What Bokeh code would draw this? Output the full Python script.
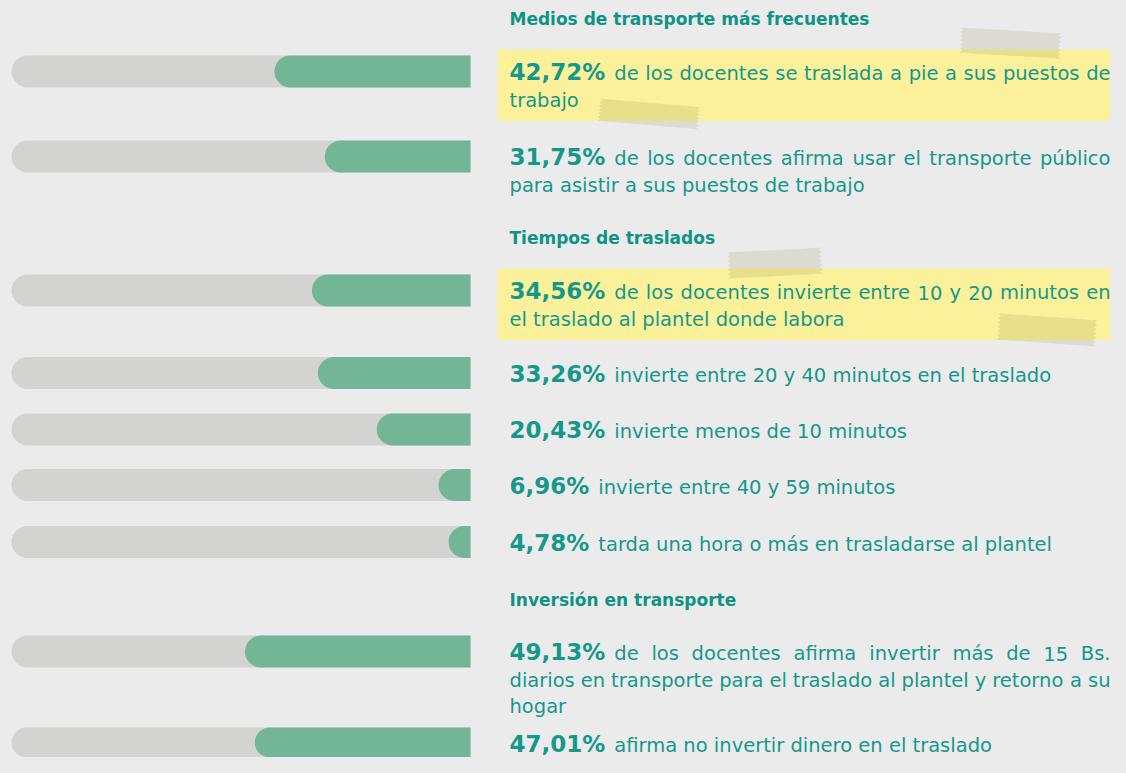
import math
from bokeh.plotting import figure
from bokeh.models import Range1d, ColumnDataSource, GlobalInlineStyleSheet
from bokeh.core.properties import value
from bokeh.embed import file_html
from bokeh.resources import INLINE

# ---------------- data ----------------
sections = ["Medios de transporte más frecuentes", "Tiempos de traslados", "Inversión en transporte"]
item_section = [0, 0, 1, 1, 1, 1, 1, 2, 2]
pct_values = [42.72, 31.75, 34.56, 33.26, 20.43, 6.96, 4.78, 49.13, 47.01]
pct_labels = ["42,72%", "31,75%", "34,56%", "33,26%", "20,43%", "6,96%", "4,78%", "49,13%", "47,01%"]
desc_lines = [
    ["de los docentes se traslada a pie a sus puestos de", "trabajo"],
    ["de los docentes afirma usar el transporte público", "para asistir a sus puestos de trabajo"],
    ["de los docentes invierte entre 10 y 20 minutos en", "el traslado al plantel donde labora"],
    ["invierte entre 20 y 40 minutos en el traslado"],
    ["invierte menos de 10 minutos"],
    ["invierte entre 40 y 59 minutos"],
    ["tarda una hora o más en trasladarse al plantel"],
    ["de los docentes afirma invertir más de 15 Bs.",
     "diarios en transporte para el traslado al plantel y retorno a su", "hogar"],
    ["afirma no invertir dinero en el traslado"],
]
highlighted = [True, False, True, False, False, False, False, False, False]

# ---------------- layout / style ----------------
FIG_W, FIG_H = 1110, 757
BG = "#ebebeb"
TRACK = "#d3d3d1"
GREEN = "#72b697"
TEAL = "#15988b"
TEAL_HEAD = "#0f9386"
YELLOW = "#fbf19b"
TAPE_BG = "#dbdbd2"
TAPE_YEL = "#e8df8a"

BAR_X0, BAR_X1 = 11, 470       # screen px where 100 % and 0 % sit
BAR_H = 32
BAR_R = 16
BAR_OFFSET = -9                # bar centre relative to first text baseline
TEXT_X, TEXT_END = 509, 1110
HEAD_SIZE, PCT_SIZE, BODY_SIZE = 17, 23, 19.5
BASE_SHIFT = 0.35              # renderer places text centre at y; shift to real baseline
LINE_H = 26.5
GAP = 9
heading_baselines = [24, 243, 605]
item_baselines = [80, 165, 299, 381.5, 438, 493.5, 550.5, 660, 752]
BOX_X0, BOX_X1 = 497, 1117
BOX_PAD_TOP, BOX_PAD_BOT = 31, 14
# tapes: (cx, cy, w, h, angle_deg)
tapes = [
    (1010, 42.5, 101, 25, 3.4),
    (648.5, 113.5, 101, 22, 4.9),
    (774.5, 262.5, 95, 26, -3.0),
    (1046.5, 329.5, 99, 26, 4.0),
]

# approximate advance widths (em) for width estimation (DejaVu Sans / Bold)
DV = {' ': .318, 'a': .613, 'á': .613, 'b': .635, 'c': .550, 'd': .635, 'e': .615, 'f': .352,
      'g': .635, 'h': .634, 'i': .278, 'j': .278, 'k': .579, 'l': .278, 'm': .974, 'n': .634,
      'o': .612, 'p': .635, 'q': .635, 'r': .411, 's': .521, 't': .392, 'u': .634, 'ú': .634,
      'v': .592, 'w': .818, 'x': .592, 'y': .592, 'z': .525, '.': .318, ',': .318, 'B': .686,
      '%': .950}
DVB = {',': .380, '%': 1.002}


def est(text, table, size, digit=.636):
    return size * sum(table.get(c, digit if c.isdigit() else .6) for c in text)


def est_b(text, size):
    return est(text, DVB, size, digit=.696)


def ty(baseline, size):
    return baseline - BASE_SHIFT * size


FONT = value("DejaVu Sans")

p = figure(width=FIG_W, height=FIG_H, output_backend="svg", toolbar_location=None,
           x_range=Range1d(0, FIG_W), y_range=Range1d(FIG_H, 0),
           min_border=0, x_axis_location=None, y_axis_location=None,
           background_fill_color=BG, border_fill_color=BG, outline_line_color=None)
p.grid.visible = False
p.stylesheets = [GlobalInlineStyleSheet(css="body{background:%s;}" % BG)]


def pct_at(px):
    return (BAR_X1 - px) / (BAR_X1 - BAR_X0) * 100.0


p.extra_x_ranges = {"pct": Range1d(start=pct_at(0), end=pct_at(FIG_W))}

# ---------------- bars ----------------
bar_y = [b + BAR_OFFSET for b in item_baselines]
bars = ColumnDataSource(dict(y=bar_y, v=pct_values, full=[100] * len(pct_values),
                             zero=[0] * len(pct_values)))
p.hbar(y="y", left="full", right="zero", height=BAR_H, source=bars, x_range_name="pct",
       fill_color=TRACK, line_color=None, border_radius=(BAR_R, 0, 0, BAR_R))
p.hbar(y="y", left="v", right="zero", height=BAR_H, source=bars, x_range_name="pct",
       fill_color=GREEN, line_color=None, border_radius=(BAR_R, 0, 0, BAR_R))

# ---------------- highlight boxes ----------------
boxes = []
for i, h in enumerate(highlighted):
    if h:
        top = item_baselines[i] - BOX_PAD_TOP
        bot = item_baselines[i] + (len(desc_lines[i]) - 1) * LINE_H + BOX_PAD_BOT
        boxes.append((top, bot))
p.quad(left=[BOX_X0] * len(boxes), right=[BOX_X1] * len(boxes),
       top=[b[0] for b in boxes], bottom=[b[1] for b in boxes],
       fill_color=YELLOW, line_color=None)


# ---------------- tapes ----------------
def tape_poly(cx, cy, w, h, ang, teeth=6, depth=3.0):
    loc = [(-w / 2, -h / 2), (w / 2, -h / 2)]
    n = 2 * teeth
    for k in range(1, n):
        loc.append((w / 2 - (depth if k % 2 else 0), -h / 2 + h * k / n))
    loc += [(w / 2, h / 2), (-w / 2, h / 2)]
    for k in range(n - 1, 0, -1):
        loc.append((-w / 2 + (depth if k % 2 else 0), -h / 2 + h * k / n))
    a = math.radians(ang)
    ca, sa = math.cos(a), math.sin(a)
    return [(cx + x * ca - y * sa, cy + x * sa + y * ca) for x, y in loc]


def clip_half(pts, keep, yc):
    out = []
    for i in range(len(pts)):
        cur, prev = pts[i], pts[i - 1]
        if keep(cur):
            if not keep(prev):
                t = (yc - prev[1]) / (cur[1] - prev[1])
                out.append((prev[0] + t * (cur[0] - prev[0]), yc))
            out.append(cur)
        elif keep(prev):
            t = (yc - prev[1]) / (cur[1] - prev[1])
            out.append((prev[0] + t * (cur[0] - prev[0]), yc))
    return out


txs, tys, yxs, yys = [], [], [], []
for (cx, cy, w, h, ang) in tapes:
    poly = tape_poly(cx, cy, w, h, ang)
    txs.append([q[0] for q in poly])
    tys.append([q[1] for q in poly])
    for (top, bot) in boxes:
        c = clip_half(poly, lambda q: q[1] >= top, top)
        if c:
            c = clip_half(c, lambda q: q[1] <= bot, bot)
        if len(c) >= 3:
            yxs.append([q[0] for q in c])
            yys.append([q[1] for q in c])
p.patches(txs, tys, fill_color=TAPE_BG, line_color=None)
p.patches(yxs, yys, fill_color=TAPE_YEL, line_color=None)

# ---------------- text ----------------
head = ColumnDataSource(dict(x=[TEXT_X] * len(sections),
                             y=[ty(b, HEAD_SIZE) for b in heading_baselines], text=sections))
p.text(x="x", y="y", text="text", source=head, text_font=FONT, text_font_style="bold",
       text_font_size="%spx" % HEAD_SIZE, text_color=TEAL_HEAD, text_baseline="alphabetic")

pct_src = ColumnDataSource(dict(x=[TEXT_X] * len(pct_labels),
                                y=[ty(b, PCT_SIZE) for b in item_baselines], text=pct_labels))
p.text(x="x", y="y", text="text", source=pct_src, text_font=FONT, text_font_style="bold",
       text_font_size="%spx" % PCT_SIZE, text_color=TEAL, text_baseline="alphabetic")

lx, ly, lt, rx, ry, rt = [], [], [], [], [], []
for i, lines in enumerate(desc_lines):
    x_rest = TEXT_X + est_b(pct_labels[i], PCT_SIZE) + GAP
    for j, line in enumerate(lines):
        x0 = x_rest if j == 0 else TEXT_X
        y = ty(item_baselines[i] + j * LINE_H, BODY_SIZE)
        if j == len(lines) - 1:
            lx.append(x0); ly.append(y); lt.append(line)
            continue
        words = line.split(" ")
        ws = [est(w, DV, BODY_SIZE) for w in words]
        extra = (TEXT_END - x0 - sum(ws)) / (len(words) - 1)
        x = x0
        for k, wd in enumerate(words[:-1]):
            lx.append(x); ly.append(y); lt.append(wd)
            x += ws[k] + extra
        rx.append(TEXT_END); ry.append(y); rt.append(words[-1])

p.text(x="x", y="y", text="text", source=ColumnDataSource(dict(x=lx, y=ly, text=lt)),
       text_font=FONT, text_font_size="%spx" % BODY_SIZE, text_color=TEAL,
       text_baseline="alphabetic", text_align="left")
p.text(x="x", y="y", text="text", source=ColumnDataSource(dict(x=rx, y=ry, text=rt)),
       text_font=FONT, text_font_size="%spx" % BODY_SIZE, text_color=TEAL,
       text_baseline="alphabetic", text_align="right")

open("out.html", "w").write(file_html(p, INLINE))
